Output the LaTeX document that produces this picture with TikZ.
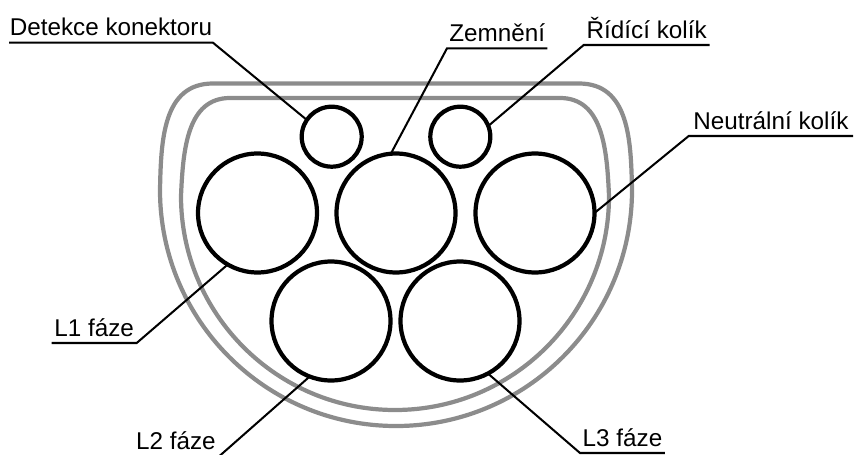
\documentclass[tikz,border=0pt]{standalone}
\usepackage{fontspec}
\setmainfont{Liberation Sans}
\tikzset{
    shell/.style={draw=shellgray,line width=2.4pt},
    pin/.style={circle,draw=black,line width=2.4pt,outer sep=0pt,inner sep=0pt},
    tag/.style={anchor=south west,inner xsep=0pt,inner ysep=0.14cm,outer sep=0pt,text depth=0pt,
                font=\fontsize{13.8}{16}\selectfont},
    leader/.style={line width=1.15pt,line join=miter}
}
\definecolor{shellgray}{HTML}{8C8C8C}
\begin{document}
\begin{tikzpicture}[x=0.02cm,y=0.02cm]
    \useasboundingbox (0,0) rectangle (854,454);

    % Outer and inner shell
    \draw[shell] (160,264) .. controls (161,314) and (163,370.5) .. (213,370.5) -- (579,370.5)
        .. controls (629,370.5) and (631,314) .. (632,264) arc (0:-180:236) -- cycle;
    \draw[shell] (181,258) .. controls (183,304) and (187,356) .. (230,356) -- (560,356)
        .. controls (603,356) and (607,304) .. (609,258) arc (0:-180:214) -- cycle;

    % Pins
    \foreach \name/\x/\y/\d in {detect/331.7/317.3/1.2, pilot/460.3/317.3/1.2,
                                lone/257.5/241/2.38, earth/396/241/2.38, neutral/535/241/2.38,
                                ltwo/331/133/2.38, lthree/460/133/2.38} {
        \node[pin,minimum size=\d cm] (\name) at (\x,\y) {};
    }

    % Labels
    \node[tag,minimum width=4.08cm] (tdetect) at (9,411.3) {Detekce konektoru};
    \node[tag,minimum width=2.01cm] (tearth) at (447,405.7) {Zemnění};
    \node[tag,minimum width=2.52cm] (tpilot) at (583.7,409) {Řídící kolík};
    \node[tag,minimum width=3.29cm] (tneutral) at (688.7,318) {Neutrální kolík};
    \node[tag,minimum width=1.70cm] (tlone) at (51.7,111) {L1 fáze};
    \node[tag,minimum width=1.74cm] (tltwo) at (132.5,-2) {L2 fáze};
    \node[tag,minimum width=1.70cm] (tlthree) at (580,1) {L3 fáze};

    % Leaders
    \draw[leader] (tdetect.south west) -- (tdetect.south east) -- (detect.146);
    \draw[leader] (tearth.south east) -- (tearth.south west) -- (earth.95);
    \draw[leader] (tpilot.south east) -- (tpilot.south west) -- (pilot.21);
    \draw[leader] (tneutral.south east) -- (tneutral.south west) -- (neutral.0);
    \draw[leader] (tlone.south west) -- (tlone.south east) -- (lone.240);
    \draw[leader] (tltwo.south east) -- (ltwo.249);
    \draw[leader] (tlthree.south east) -- (tlthree.south west) -- (lthree.298);
\end{tikzpicture}
\end{document}
